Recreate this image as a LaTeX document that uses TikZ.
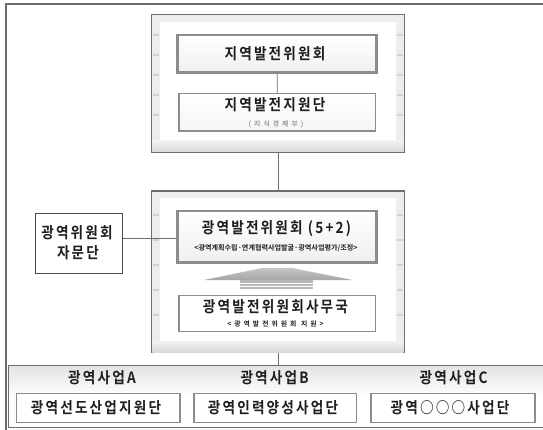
\documentclass[tikz,border=0pt]{standalone}
\usepackage{fontspec}
\newfontfamily\krw[LetterSpace=14,FakeStretch=0.88]{Noto Sans CJK KR Bold}
\newfontfamily\krn{Noto Sans CJK KR Bold}
\newfontfamily\krs[LetterSpace=45]{Noto Sans CJK KR Bold}
\definecolor{txt}{HTML}{1E1E1E}
\definecolor{frameln}{HTML}{6E6E6E}
\definecolor{boxln}{HTML}{8C8C8C}
\definecolor{strip}{HTML}{EDEDED}
\begin{document}
\begin{tikzpicture}[x=1pt,y=-1pt,
  bigframe/.style={draw=frameln, line width=1.3pt, fill=strip, inner sep=0pt},
  thickbox/.style={draw=boxln, line width=2.6pt, top color=white, bottom color=gray!12, inner sep=0pt},
  thinbox/.style={draw=boxln, line width=1.3pt, fill=white, inner sep=0pt},
  plainbox/.style={draw=txt!80, line width=1.3pt, fill=white, inner sep=0pt},
  botbox/.style={draw=boxln, line width=1.2pt, fill=white, inner sep=0pt, minimum height=29pt},
  ttl/.style={text=txt, font=\krw\fontsize{15.5}{16}\selectfont, inner sep=0pt},
  sub/.style={text=txt, font=\krn\fontsize{7.2}{8}\selectfont, inner sep=0pt},
  conn/.style={draw=frameln, line width=0.8pt}
]
\useasboundingbox (0,0) rectangle (543,430);
\fill[white] (0,0) rectangle (543,430);

% outer frame
\draw[frameln, line width=1.6pt] (6.2,432) -- (6.2,4) -- (545,4);

% bottom band
\node[draw=frameln, line width=1.2pt, top color=gray!22, bottom color=white, middle color=white, minimum width=540pt, minimum height=62pt, inner sep=0pt, anchor=north west] (band) at (7.6,365) {};

% big frames
\node[bigframe, minimum width=252.7pt, minimum height=137.6pt] (topframe) at (278,83.5) {};
\fill[white] (160,22) rectangle (396,141);
\shade[top color=gray!10, bottom color=gray!30] (152.4,141) rectangle (403.7,151.6);
\node[bigframe, minimum width=252.7pt, minimum height=161.7pt] (midframe) at (278,271.85) {};
\fill[white] (160,198) rectangle (396,341);
\shade[top color=gray!10, bottom color=gray!30] (152.4,341) rectangle (403.7,352);
\foreach \yy in {35,55,75,95,115} {
  \draw[gray!35, line width=1.5pt] (153,\yy) -- (159,\yy);
  \draw[gray!35, line width=1.5pt] (397,\yy) -- (403,\yy);
}
\foreach \yy in {215,240,265,290,315} {
  \draw[gray!35, line width=1.5pt] (153,\yy) -- (159,\yy);
  \draw[gray!35, line width=1.5pt] (397,\yy) -- (403,\yy);
}

% inner boxes
\node[thickbox, minimum width=199pt, minimum height=37.3pt] (b1) at (277.15,53.65) {};
\node[thinbox, top color=white, bottom color=gray!8, minimum width=196.7pt, minimum height=37.7pt] (b2) at (277.35,112.15) {};
\node[thickbox, minimum width=199pt, minimum height=51.7pt] (b52) at (277.15,236.85) {};
\node[thinbox, minimum width=196.7pt, minimum height=36pt] (sec) at (277.35,313.7) {};
\node[plainbox, minimum width=86.5pt, minimum height=60pt] (adv) at (79,243.3) {};

% connectors
\draw[conn] (b1.south) -- (b2.north);
\draw[conn] (topframe.south) -- (midframe.north);
\draw[conn] (midframe.south) -- (midframe.south |- band.north);
\draw[conn] ([yshift=5pt]adv.east) -- ([yshift=5pt]adv.east -| b52.west);

% up arrow from secretariat to committee
\fill[gray!55] (240,289) rectangle (313,279.5);
\draw[white, line width=0.6pt] (240,283) -- (313,283);
\draw[white, line width=0.6pt] (240,286) -- (313,286);
\shade[top color=gray!45, bottom color=gray!70] (204,280) -- (262,268) -- (292,268) -- (352,280) -- cycle;

% texts
\node[ttl] (t1) at (275,53.3) {지역발전위원회};
\node[ttl] (t2) at (275,105) {지역발전지원단};
\node[text=gray!80, font=\krs\fontsize{6.8}{7}\selectfont, inner sep=0pt] (t2s) at (276,124) {(지식경제부)};
\node[ttl] (t3) at (276.5,229) {광역발전위원회 (5+2)};
\node[sub, font=\krn\fontsize{7.1}{8}\selectfont] (t3s) at (276,248) {<광역계획수립·연계협력사업발굴·광역사업평가/조정>};
\node[ttl] (t4) at (275.5,306.7) {광역발전위원회사무국};
\node[text=txt, font=\krs\fontsize{6.8}{7}\selectfont, inner sep=0pt] (t4s) at (275.5,324) {<광역발전위원회 지원>};
\node[ttl] (a1) at (77,233) {광역위원회};
\node[ttl] (a2) at (78,253) {자문단};

% bottom band
\node[ttl] (hA) at (102,377.7) {광역사업A};
\node[ttl] (hB) at (274.6,377.7) {광역사업B};
\node[ttl] (hC) at (453.6,377.7) {광역사업C};
\node[botbox, minimum width=163.7pt] (bA) at (98.15,408) {};
\node[botbox, minimum width=162.6pt] (bB) at (275.3,408) {};
\node[botbox, minimum width=164pt] (bC) at (453,408) {};
\node[ttl] (tA) at (96,408) {광역선도산업지원단};
\node[ttl] (tB) at (273,408) {광역인력양성사업단};
\node[ttl] (tC) at (450,408) {광역○○○사업단};
\node[text=gray!60, font=\fontsize{6}{6}\selectfont, inner sep=0pt] (dots) at (539.5,417) {..};
\end{tikzpicture}
\end{document}
